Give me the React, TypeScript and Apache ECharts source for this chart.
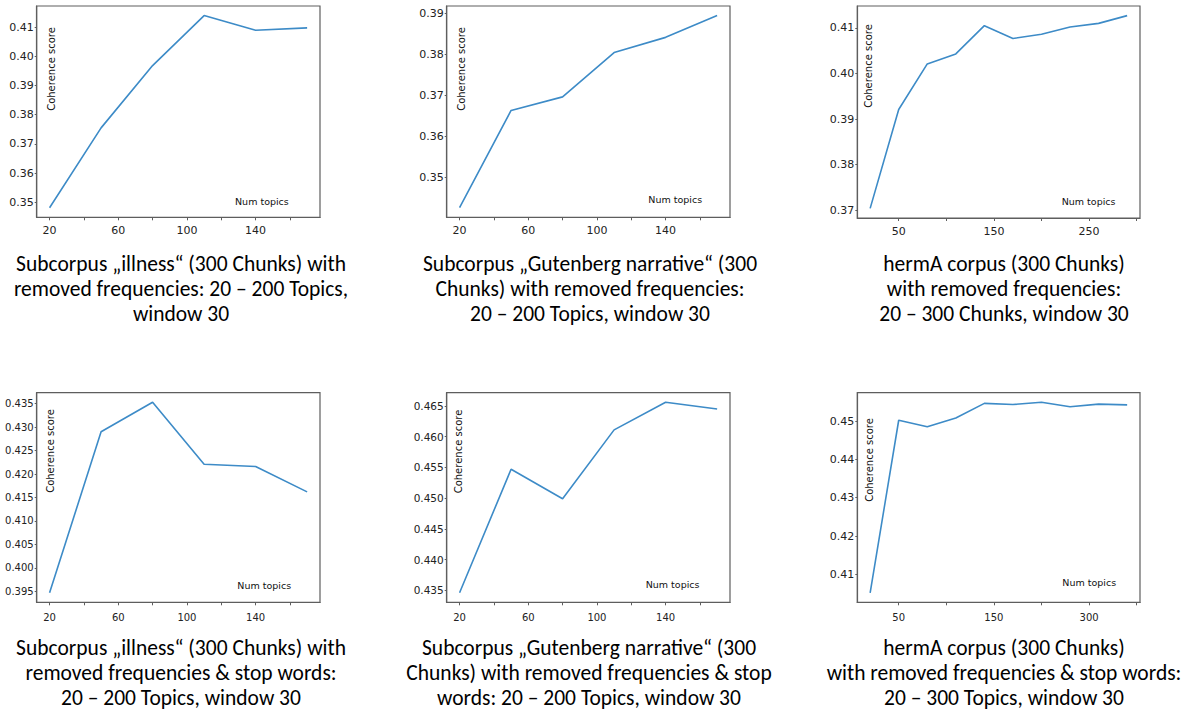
import React, { useEffect, useRef } from "react";
import * as echarts from "echarts";

// ---- Data ----
const topics20to170 = [20, 50, 80, 110, 140, 170];
const topics20to290 = [20, 50, 80, 110, 140, 170, 200, 230, 260, 290];

const illnessFreq = [0.3482, 0.3755, 0.3968, 0.4139, 0.4089, 0.4097];
const gutenbergFreq = [0.3427, 0.3664, 0.3697, 0.3805, 0.3842, 0.3895];
const hermaFreq = [0.3704, 0.3921, 0.4021, 0.4043, 0.4105, 0.4077, 0.4086, 0.4102, 0.411, 0.4127];
const illnessStop = [0.3947, 0.429, 0.4353, 0.4221, 0.4216, 0.4162];
const gutenbergStop = [0.4346, 0.4547, 0.4499, 0.4611, 0.4656, 0.4645];
const hermaStop = [0.4052, 0.4502, 0.4485, 0.4508, 0.4546, 0.4543, 0.4549, 0.4537, 0.4544, 0.4542];

// ---- Tick values / labels ----
const xTickValuesA = [20, 40, 60, 80, 100, 120, 140, 160];
const xLabelValuesA = [20, 60, 100, 140];
const xLabelTextA = ["20", "60", "100", "140"];
const xTickValuesB = [50, 100, 150, 200, 250, 300];
const xLabelValuesB = [50, 150, 250];
const xLabelTextTopB = ["50", "150", "250"];
const xLabelTextBottomB = ["50", "150", "300"];

const yTicksIllnessFreq = [0.35, 0.36, 0.37, 0.38, 0.39, 0.4, 0.41];
const yTicksGutenbergFreq = [0.35, 0.36, 0.37, 0.38, 0.39];
const yTicksHermaFreq = [0.37, 0.38, 0.39, 0.4, 0.41];
const yTicksIllnessStop = [0.395, 0.4, 0.405, 0.41, 0.415, 0.42, 0.425, 0.43, 0.435];
const yTicksGutenbergStop = [0.435, 0.44, 0.445, 0.45, 0.455, 0.46, 0.465];
const yTicksHermaStop = [0.41, 0.42, 0.43, 0.44, 0.45];

const yAxisTitle = "Coherence score";
const xAxisTitle = "Num topics";

const captionIllnessFreq = ["Subcorpus „illness“ (300 Chunks) with", "removed frequencies: 20 – 200 Topics,", "window 30"];
const captionGutenbergFreq = ["Subcorpus „Gutenberg narrative“ (300", "Chunks) with removed frequencies:", "20 – 200 Topics, window 30"];
const captionHermaFreq = ["hermA corpus (300 Chunks)", "with removed frequencies:", "20 – 300 Chunks, window 30"];
const captionIllnessStop = ["Subcorpus „illness“ (300 Chunks) with", "removed frequencies & stop words:", "20 – 200 Topics, window 30"];
const captionGutenbergStop = ["Subcorpus „Gutenberg narrative“ (300", "Chunks) with removed frequencies & stop", "words: 20 – 200 Topics, window 30"];
const captionHermaStop = ["hermA corpus (300 Chunks)", "with removed frequencies & stop words:", "20 – 300 Topics, window 30"];

// ---- Layout / styling ----
const TICK_FONT = "'DejaVu Sans', sans-serif";
const CAPTION_FONT = "Carlito, 'Open Sans', sans-serif";
const LINE_COLOR = "#3d8bc7";
const FRAME_COLOR = "#5e5e5e";

type Panel = {
  x: number[]; y: number[];
  xTicks: number[]; xLabelVals: number[]; xLabelText: string[];
  yTicks: number[]; yDec: number;
  caption: string[];
  box: [number, number, number, number]; // left, top, right, bottom
  yFont: number; xFont: number; xMargin: number;
  yName: [number, number]; xName: [number, number];
  capX: number; capY: number[];
};

const TOP_CAP_Y = [263.5, 288.5, 313.5];
const BOT_CAP_Y = [648, 673, 698];

const panels: Panel[] = [
  { x: topics20to170, y: illnessFreq, xTicks: xTickValuesA, xLabelVals: xLabelValuesA, xLabelText: xLabelTextA,
    yTicks: yTicksIllnessFreq, yDec: 2, caption: captionIllnessFreq,
    box: [36.7, 6, 320, 217.3], yFont: 11, xFont: 11, xMargin: 8,
    yName: [51.7, 69], xName: [235, 201], capX: 181, capY: TOP_CAP_Y },
  { x: topics20to170, y: gutenbergFreq, xTicks: xTickValuesA, xLabelVals: xLabelValuesA, xLabelText: xLabelTextA,
    yTicks: yTicksGutenbergFreq, yDec: 2, caption: captionGutenbergFreq,
    box: [446.7, 6, 730, 217.3], yFont: 11, xFont: 11, xMargin: 8,
    yName: [461, 69], xName: [648.3, 199.5], capX: 590, capY: TOP_CAP_Y },
  { x: topics20to290, y: hermaFreq, xTicks: xTickValuesB, xLabelVals: xLabelValuesB, xLabelText: xLabelTextTopB,
    yTicks: yTicksHermaFreq, yDec: 2, caption: captionHermaFreq,
    box: [857.3, 6, 1140, 218], yFont: 11, xFont: 11, xMargin: 8,
    yName: [868.3, 66], xName: [1061.7, 201.5], capX: 1004, capY: TOP_CAP_Y },
  { x: topics20to170, y: illnessStop, xTicks: xTickValuesA, xLabelVals: xLabelValuesA, xLabelText: xLabelTextA,
    yTicks: yTicksIllnessStop, yDec: 3, caption: captionIllnessStop,
    box: [36.7, 392.7, 320, 602.3], yFont: 10, xFont: 10, xMargin: 10,
    yName: [50.7, 451], xName: [237.3, 585], capX: 181, capY: BOT_CAP_Y },
  { x: topics20to170, y: gutenbergStop, xTicks: xTickValuesA, xLabelVals: xLabelValuesA, xLabelText: xLabelTextA,
    yTicks: yTicksGutenbergStop, yDec: 3, caption: captionGutenbergStop,
    box: [446.7, 392.7, 730, 602.3], yFont: 10.5, xFont: 10, xMargin: 10,
    yName: [458.3, 451.5], xName: [645.7, 584.3], capX: 589, capY: BOT_CAP_Y },
  { x: topics20to290, y: hermaStop, xTicks: xTickValuesB, xLabelVals: xLabelValuesB, xLabelText: xLabelTextBottomB,
    yTicks: yTicksHermaStop, yDec: 2, caption: captionHermaStop,
    box: [857.3, 392.7, 1140, 602.3], yFont: 11, xFont: 10, xMargin: 10,
    yName: [869, 460], xName: [1062.3, 582.3], capX: 1004, capY: BOT_CAP_Y },
];

function padded(arr: number[]): [number, number] {
  const lo = Math.min(...arr);
  const hi = Math.max(...arr);
  const r = hi - lo;
  return [lo - 0.05 * r, hi + 0.05 * r];
}

function buildOption() {
  const grid: any[] = [];
  const xAxis: any[] = [];
  const yAxis: any[] = [];
  const series: any[] = [];
  const graphic: any[] = [];

  panels.forEach((p, i) => {
    const [l, t, r, b] = p.box;
    grid.push({
      left: l, top: t, width: r - l, height: b - t,
      show: true, borderColor: FRAME_COLOR, borderWidth: 1.2, backgroundColor: "#fff",
      outerBoundsMode: "none",
    });
    const [xmin, xmax] = padded(p.x);
    const [ymin, ymax] = padded(p.y);
    xAxis.push({
      type: "value", gridIndex: i, min: xmin, max: xmax,
      axisLine: { show: true, lineStyle: { color: FRAME_COLOR, width: 1.2 } },
      axisTick: { show: true, length: 3, lineStyle: { color: FRAME_COLOR }, customValues: p.xTicks },
      axisLabel: {
        customValues: p.xLabelVals, margin: p.xMargin, fontSize: p.xFont, fontFamily: TICK_FONT, color: "#222",
        formatter: (v: number) => {
          const k = p.xLabelVals.findIndex((q) => Math.abs(q - v) < 1e-6);
          return k >= 0 ? p.xLabelText[k] : "";
        },
      },
      splitLine: { show: false },
    });
    yAxis.push({
      type: "value", gridIndex: i, min: ymin, max: ymax,
      axisLine: { show: true, lineStyle: { color: FRAME_COLOR, width: 1.2 } },
      axisTick: { show: true, length: 2, lineStyle: { color: FRAME_COLOR }, customValues: p.yTicks },
      axisLabel: {
        customValues: p.yTicks, margin: 3, fontSize: p.yFont, fontFamily: TICK_FONT, color: "#222",
        formatter: (v: number) => v.toFixed(p.yDec),
      },
      splitLine: { show: false },
    });
    series.push({
      type: "line", xAxisIndex: i, yAxisIndex: i,
      data: p.x.map((xv, j) => [xv, p.y[j]]),
      symbol: "none", showSymbol: false,
      lineStyle: { color: LINE_COLOR, width: 1.6 },
    });
    graphic.push({
      type: "text", x: p.yName[0], y: p.yName[1], rotation: Math.PI / 2, z: 100,
      style: { text: yAxisTitle, fontSize: 10, fontFamily: TICK_FONT, fill: "#111", align: "center", verticalAlign: "middle" },
    });
    graphic.push({
      type: "text", x: p.xName[0], y: p.xName[1], z: 100,
      style: { text: xAxisTitle, fontSize: 9.5, fontFamily: TICK_FONT, fill: "#111", align: "left", verticalAlign: "middle" },
    });
    p.caption.forEach((line, k) => {
      graphic.push({
        type: "text", x: p.capX, y: p.capY[k], z: 100,
        style: { text: line, fontSize: 21.5, fontFamily: CAPTION_FONT, fill: "#000", align: "center", verticalAlign: "middle" },
      });
    });
  });

  return {
    animation: false,
    backgroundColor: "#fff",
    grid, xAxis, yAxis, series, graphic,
  };
}

export default function App() {
  const ref = useRef<HTMLDivElement>(null);
  useEffect(() => {
    if (!ref.current) return;
    const chart = echarts.init(ref.current, undefined, { renderer: "svg" });
    chart.setOption(buildOption() as any);
    return () => chart.dispose();
  }, []);
  return (
    <div
      ref={ref}
      style={{ position: "absolute", left: 0, top: 0, width: 1193, height: 713, background: "#fff" }}
    />
  );
}
